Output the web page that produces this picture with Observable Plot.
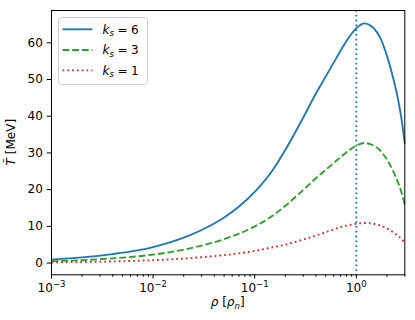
<!DOCTYPE html>
<html>
<head>
<meta charset="utf-8">
<script src="https://cdn.jsdelivr.net/npm/d3@7"></script>
<script src="https://cdn.jsdelivr.net/npm/@observablehq/plot@0.6"></script>
<style>
  html, body { margin: 0; padding: 0; background: #fff; }
  #chart svg { display: block; }
</style>
</head>
<body>
<div id="chart"></div>
<script>
// ---- data ----
const rho = [0.001, 0.002, 0.004, 0.007, 0.01, 0.02, 0.03, 0.05, 0.07, 0.1, 0.15, 0.2, 0.3, 0.4, 0.5, 0.65, 0.8, 1.0, 1.2, 1.4, 1.7, 2.0, 2.3, 2.6, 2.8, 3.0];
const T_ks6 = [0.95, 1.55, 2.45, 3.45, 4.35, 6.9, 9.0, 12.4, 15.4, 19.4, 25.3, 30.8, 39.6, 46.2, 50.8, 56.3, 60.5, 64.0, 65.3, 64.6, 61.6, 56.5, 50.5, 44.0, 38.8, 32.5];
const T_ks3 = [0.5, 0.8, 1.28, 1.83, 2.3, 3.65, 4.75, 6.5, 8.0, 10.0, 12.9, 15.6, 19.9, 23.1, 25.4, 28.1, 30.2, 32.0, 32.7, 32.3, 30.8, 28.2, 25.1, 21.6, 19.0, 16.0];
const T_ks1 = [0.2, 0.28, 0.45, 0.62, 0.78, 1.22, 1.6, 2.15, 2.65, 3.3, 4.3, 5.0, 6.4, 7.5, 8.4, 9.5, 10.2, 10.7, 10.9, 10.8, 10.3, 9.4, 8.4, 7.3, 6.5, 5.4];
const ksValues = [6, 3, 1];
const rhoNuclear = [1];

const xTicks = [0.001, 0.01, 0.1, 1];
const xTickBase = "10";
const xTickExponents = ["\u22123", "\u22122", "\u22121", "0"];
const xMinorTicks = [0.002,0.003,0.004,0.005,0.006,0.007,0.008,0.009,
                     0.02,0.03,0.04,0.05,0.06,0.07,0.08,0.09,
                     0.2,0.3,0.4,0.5,0.6,0.7,0.8,0.9, 2, 3];
const yTicks = [0, 10, 20, 30, 40, 50, 60];

// ---- styles ----
const colors = ["#1f77b4", "#2ca02c", "#d62728"];
const dashes = [null, "6.8 2.9", "1.8 3"];

const seriesT = [T_ks6, T_ks3, T_ks1];
const table = ksValues.map((ks, s) => rho.map((r, i) => ({rho: r, T: seriesT[s][i], ks})));
const expOf = new Map(xTicks.map((d, i) => [d, xTickExponents[i]]));

const W = 415, H = 320;
const mL = 51, mT = 10, mR = 10.7, mB = 45.7;

const lineMarks = table.map((d, s) => Plot.line(d, {
  x: "rho", y: "T", stroke: colors[s], strokeWidth: 1.85,
  strokeDasharray: dashes[s] || undefined, strokeLinecap: "butt",
  curve: "monotone-x"
}));

const svg = Plot.plot({
  width: W, height: H,
  marginLeft: mL, marginTop: mT, marginRight: mR, marginBottom: mB,
  style: {fontFamily: "DejaVu Sans, sans-serif", fontSize: "12px", color: "#000", background: "#fff"},
  x: {type: "log", domain: [0.001, 3]},
  y: {domain: [-3.2, 68.8]},
  marks: [
    ...lineMarks,
    Plot.ruleX(rhoNuclear, {x: d => d, stroke: colors[0], strokeWidth: 1.85, strokeDasharray: "1.8 3"}),
    Plot.frame({stroke: "#000", strokeWidth: 1}),
    Plot.axisX(xTicks, {tickSize: 4.3, tickPadding: 4.3, fontSize: 12, tickFormat: d => "\u200B" + xTickBase + expOf.get(d), label: null}),
    Plot.axisX(xMinorTicks, {tickSize: 2.4, tickFormat: () => "", label: null}),
    Plot.axisY(yTicks, {tickSize: 4.3, tickPadding: 4.3, fontSize: 12, label: null})
  ]
});

const sel = d3.select(svg);
const font = "DejaVu Sans, sans-serif";

// x tick labels: "10" with a raised exponent
sel.selectAll("text").each(function () {
  const s = this.textContent;
  if (this.childElementCount === 0 && s.startsWith("\u200B" + xTickBase)) {
    const ex = s.slice(1 + xTickBase.length);
    const t = d3.select(this);
    t.text(null);
    t.append("tspan").text(xTickBase);
    t.append("tspan").attr("font-size", 8.5).attr("dy", -5).text(ex);
  }
});

// y label
const yl = sel.append("text")
  .attr("transform", `translate(14.5, ${mT + (H - mT - mB) / 2}) rotate(-90)`)
  .attr("text-anchor", "middle").attr("font-family", font).attr("font-size", 12).attr("fill", "#000");
yl.append("tspan").attr("font-style", "italic").text("T\u0303");
yl.append("tspan").text(" [MeV]");

// x label
const xl = sel.append("text")
  .attr("x", mL + (W - mL - mR) / 2).attr("y", 306)
  .attr("text-anchor", "middle").attr("font-family", font).attr("font-size", 12).attr("fill", "#000");
xl.append("tspan").attr("font-style", "italic").text("\u03C1");
xl.append("tspan").text(" [");
xl.append("tspan").attr("font-style", "italic").text("\u03C1");
xl.append("tspan").attr("font-style", "italic").attr("font-size", 8.5).attr("dy", 3).text("n");
xl.append("tspan").attr("dy", -3).text("]");

// legend
const lg = sel.append("g").attr("text-anchor", "start");
lg.append("rect").attr("x", 58.5).attr("y", 17.5).attr("width", 89).attr("height", 67)
  .attr("rx", 3).attr("fill", "#fff").attr("fill-opacity", 0.8)
  .attr("stroke", "#cccccc").attr("stroke-width", 1);
const rows = [29.3, 50, 70.3];
ksValues.forEach((ks, s) => {
  const y = rows[s];
  const ln = lg.append("line").attr("x1", 62.5).attr("x2", 92.5).attr("y1", y).attr("y2", y)
    .attr("stroke", colors[s]).attr("stroke-width", 1.85);
  if (dashes[s]) ln.attr("stroke-dasharray", dashes[s]);
  const t = lg.append("text").attr("x", 102.5).attr("y", y + 4.3).attr("text-anchor", "start")
    .attr("font-family", font).attr("font-size", 12).attr("fill", "#000");
  t.append("tspan").attr("font-style", "italic").text("k");
  t.append("tspan").attr("font-style", "italic").attr("font-size", 8.5).attr("dy", 2.5).text("s");
  t.append("tspan").attr("dy", -2.5).attr("dx", 3.5).text("=");
  t.append("tspan").attr("dx", 3.5).text(String(ks));
});

document.getElementById("chart").appendChild(svg);
</script>
</body>
</html>
